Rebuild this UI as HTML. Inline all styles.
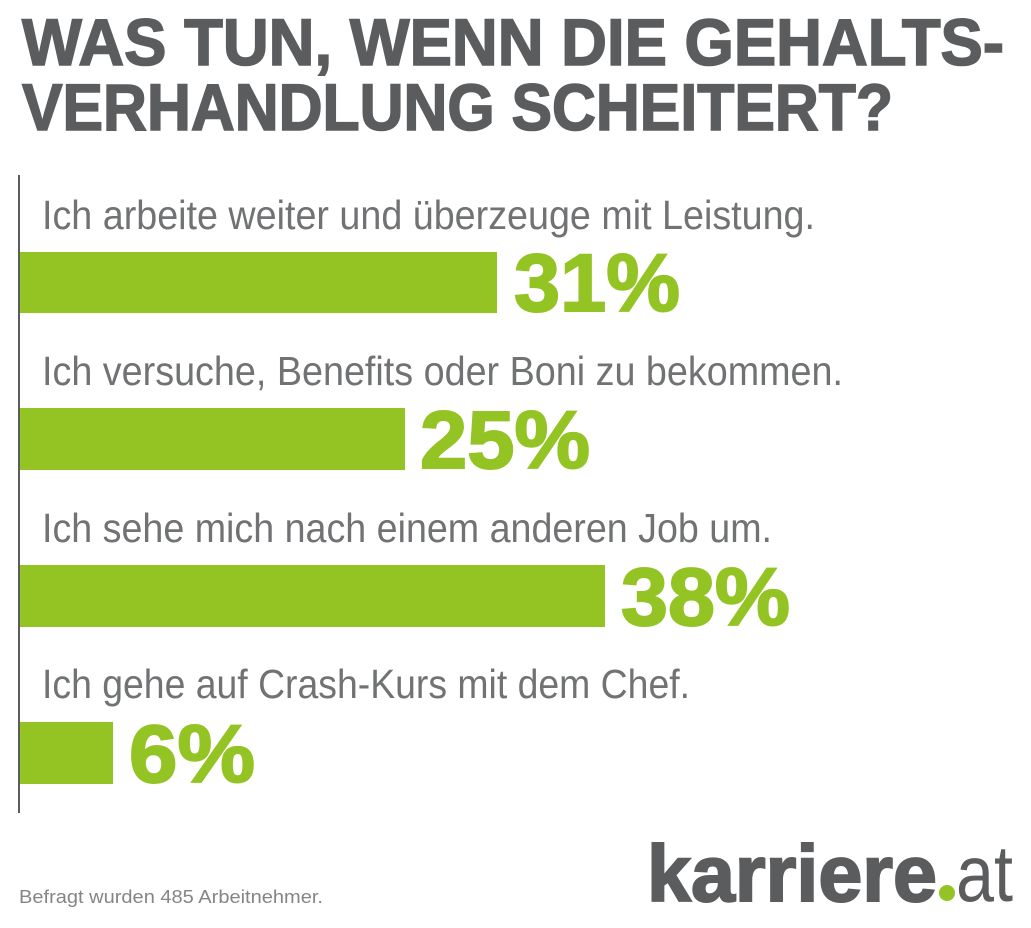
<!DOCTYPE html>
<html>
<head>
<meta charset="utf-8">
<style>
  html, body { margin: 0; padding: 0; background: #ffffff; }
  body { width: 1031px; height: 928px; overflow: hidden; }
  svg { display: block; }
  .title { font-family: "Liberation Sans", sans-serif; font-weight: bold; fill: #5b5c5e; stroke: #5b5c5e; stroke-width: 1.6px; font-size: 66px; }
  .lab { font-family: "Liberation Sans", sans-serif; font-weight: normal; fill: #717274; font-size: 41px; }
  .pct { font-family: "Liberation Sans", sans-serif; font-weight: bold; fill: #94c424; stroke: #94c424; stroke-width: 2px; font-size: 82px; }
  .foot { font-family: "Liberation Sans", sans-serif; fill: #858585; font-size: 18px; }
  .logo { font-family: "Liberation Sans", sans-serif; fill: #5b5c5e; font-size: 80px; }
</style>
</head>
<body>
<svg width="1031" height="928" viewBox="0 0 1031 928" xmlns="http://www.w3.org/2000/svg">
  <rect width="1031" height="928" fill="#ffffff"/>

  <!-- Title -->
  <text class="title" x="22" y="65" textLength="982" lengthAdjust="spacingAndGlyphs">WAS TUN, WENN DIE GEHALTS-</text>
  <text class="title" x="22" y="130" textLength="871" lengthAdjust="spacingAndGlyphs">VERHANDLUNG SCHEITERT?</text>

  <!-- Axis line -->
  <rect x="18" y="175" width="2" height="638" fill="#5b5c5e"/>

  <!-- Row 1 -->
  <text class="lab" x="42" y="229" textLength="773" lengthAdjust="spacingAndGlyphs">Ich arbeite weiter und überzeuge mit Leistung.</text>
  <rect x="20" y="252" width="477" height="61" fill="#94c424"/>
  <text class="pct" x="514" y="311" textLength="166" lengthAdjust="spacingAndGlyphs">31%</text>

  <!-- Row 2 -->
  <text class="lab" x="42" y="385" textLength="801" lengthAdjust="spacingAndGlyphs">Ich versuche, Benefits oder Boni zu bekommen.</text>
  <rect x="20" y="408" width="385" height="62" fill="#94c424"/>
  <text class="pct" x="420" y="468" textLength="170" lengthAdjust="spacingAndGlyphs">25%</text>

  <!-- Row 3 -->
  <text class="lab" x="42" y="542" textLength="730" lengthAdjust="spacingAndGlyphs">Ich sehe mich nach einem anderen Job um.</text>
  <rect x="20" y="565" width="585" height="62" fill="#94c424"/>
  <text class="pct" x="621" y="625" textLength="169" lengthAdjust="spacingAndGlyphs">38%</text>

  <!-- Row 4 -->
  <text class="lab" x="42" y="698" textLength="648" lengthAdjust="spacingAndGlyphs">Ich gehe auf Crash-Kurs mit dem Chef.</text>
  <rect x="20" y="722" width="93" height="62" fill="#94c424"/>
  <text class="pct" x="129" y="782" textLength="126" lengthAdjust="spacingAndGlyphs">6%</text>

  <!-- Footer -->
  <text class="foot" x="19" y="903" textLength="304" lengthAdjust="spacingAndGlyphs">Befragt wurden 485 Arbeitnehmer.</text>

  <!-- Logo -->
  <text class="logo" x="647" y="901" font-weight="bold" stroke="#5b5c5e" stroke-width="2" textLength="290" lengthAdjust="spacingAndGlyphs">karriere</text>
  <circle cx="947" cy="893" r="8" fill="#94c424"/>
  <text class="logo" x="956" y="901" textLength="57" lengthAdjust="spacingAndGlyphs" style="font-weight:normal">at</text>
</svg>
</body>
</html>
